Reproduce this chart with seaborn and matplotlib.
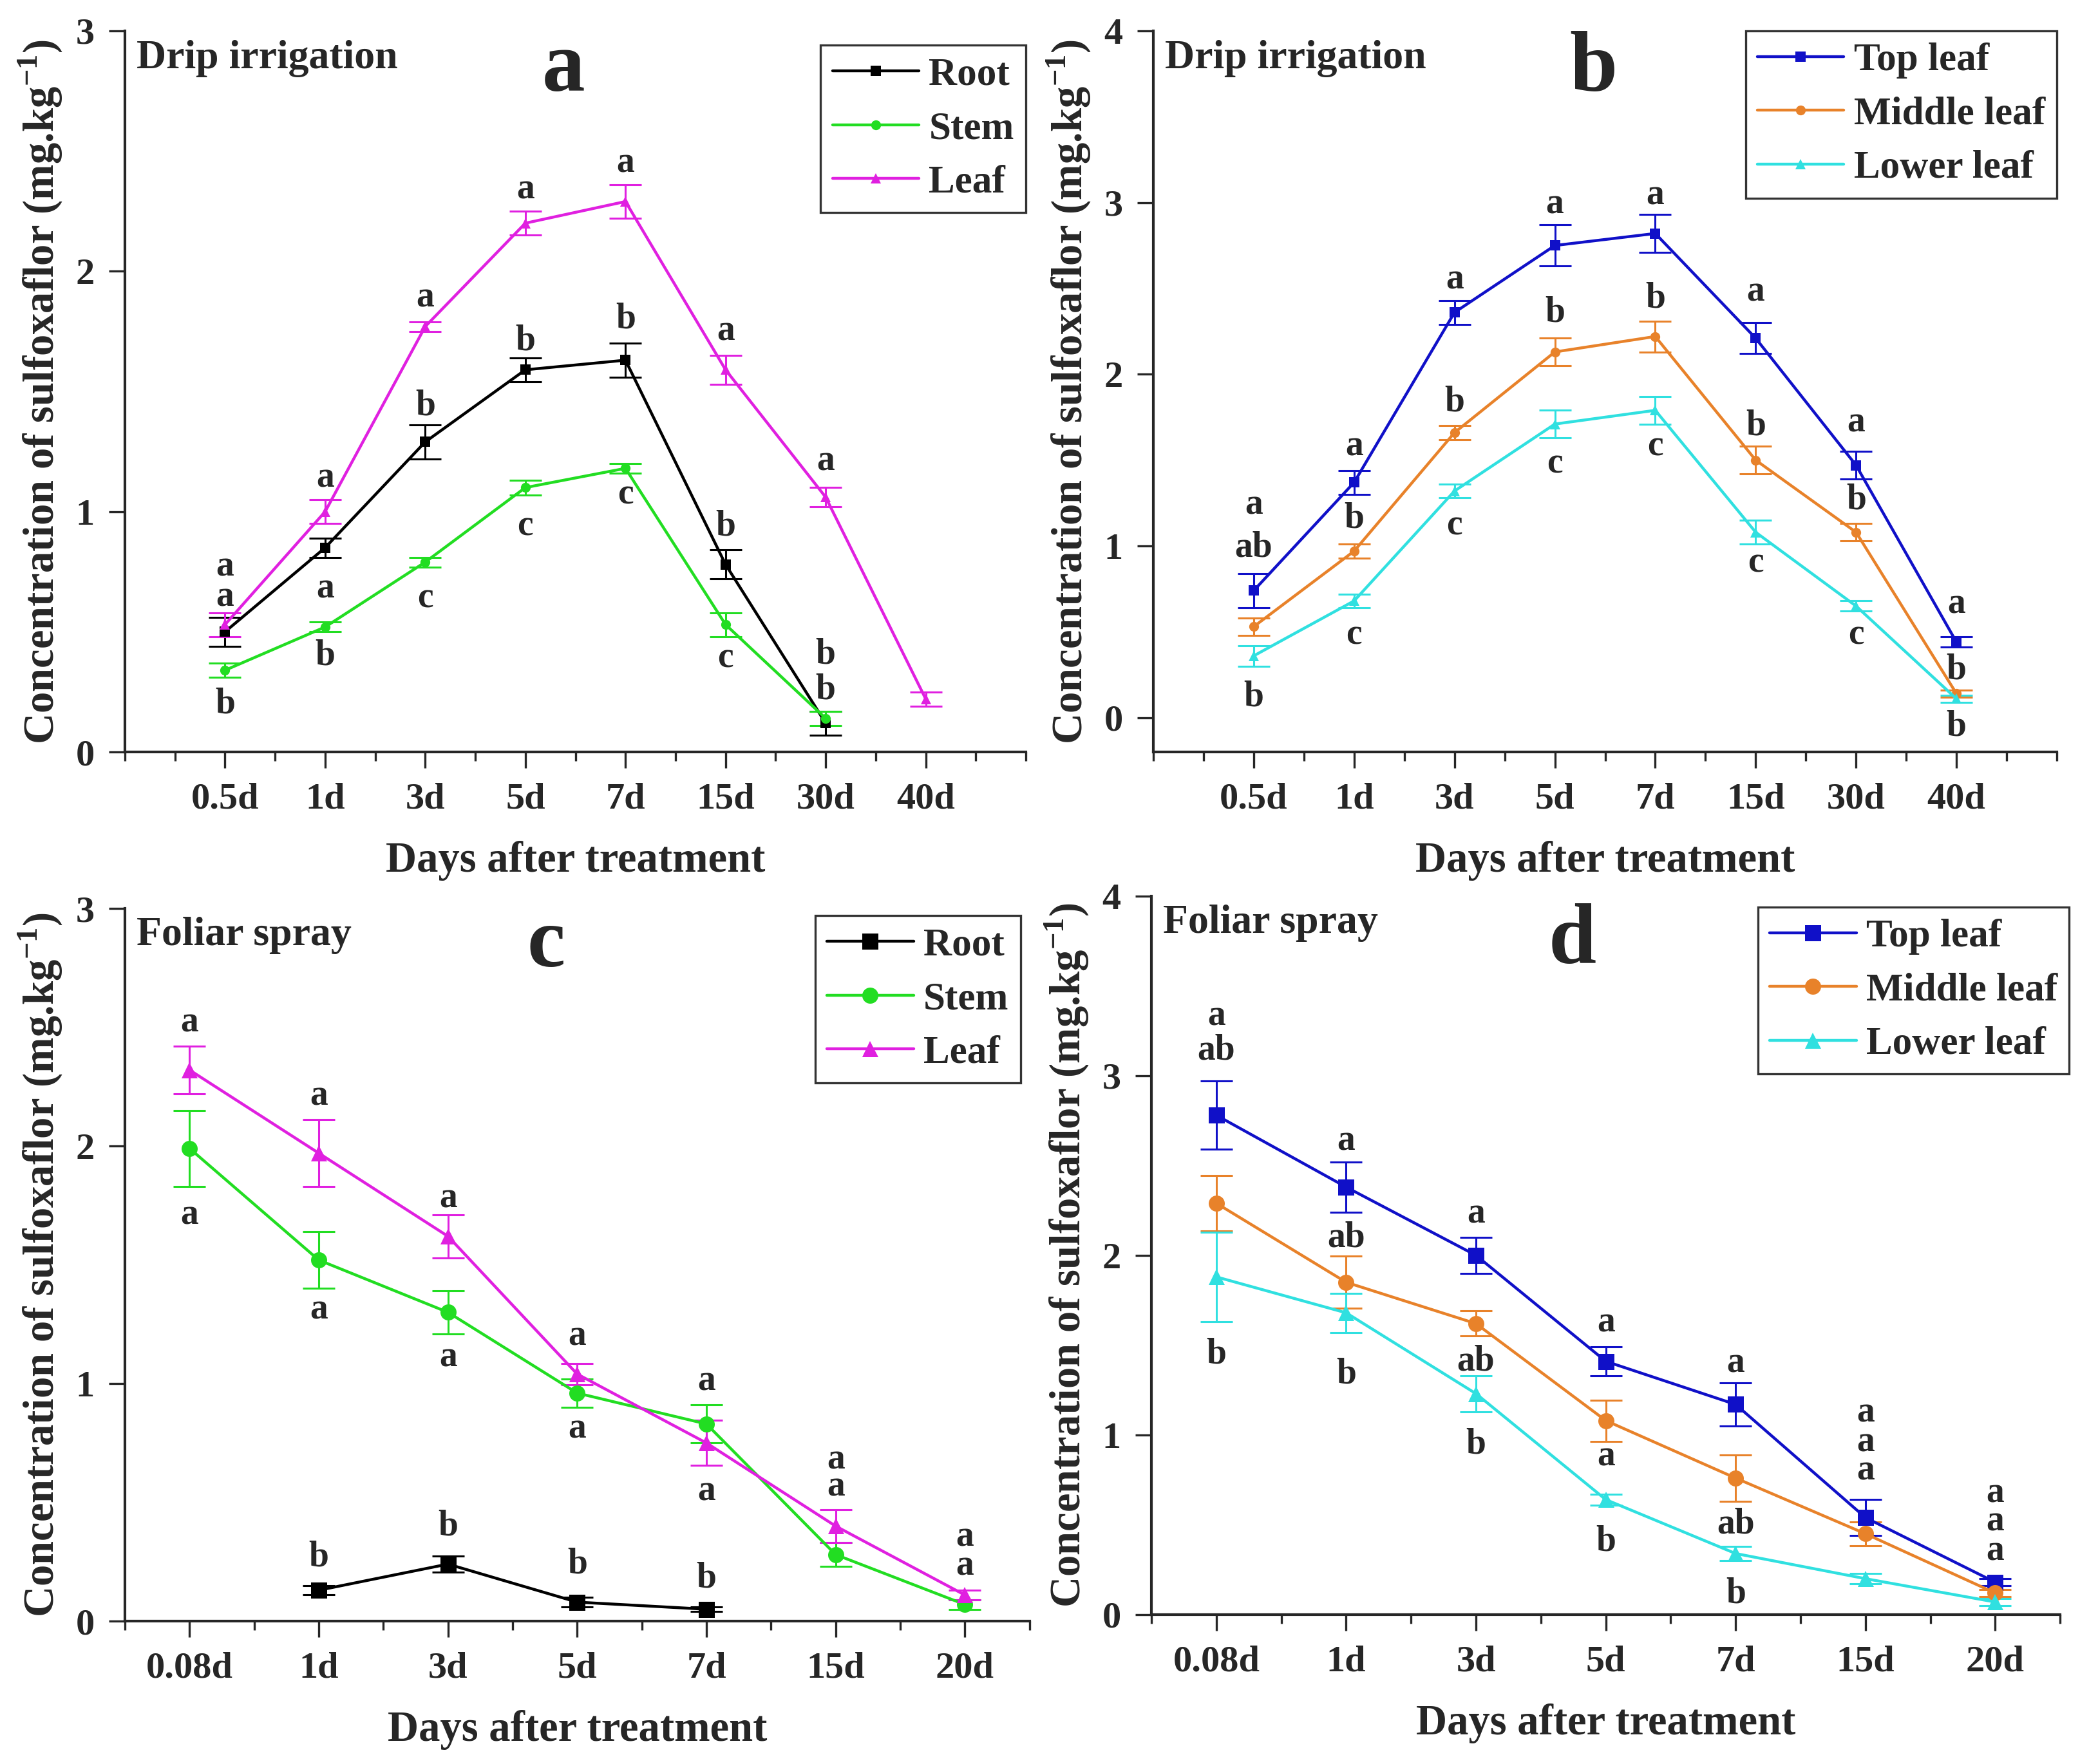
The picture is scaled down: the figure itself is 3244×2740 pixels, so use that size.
import numpy as np
import pandas as pd
import matplotlib
matplotlib.use("Agg")
import matplotlib.pyplot as plt
import seaborn as sns

# ---- data ----
drip_days = ['0.5d', '1d', '3d', '5d', '7d', '15d', '30d', '40d']
spray_days = ['0.08d', '1d', '3d', '5d', '7d', '15d', '20d']

# (a) drip irrigation, plant organs
drip_root = [0.50, 0.85, 1.29, 1.59, 1.63, 0.78, 0.12, np.nan]
drip_root_err = [0.06, 0.04, 0.07, 0.05, 0.07, 0.06, 0.05, np.nan]
drip_stem = [0.34, 0.52, 0.79, 1.10, 1.18, 0.53, 0.14, np.nan]
drip_stem_err = [0.03, 0.02, 0.02, 0.03, 0.02, 0.05, 0.03, np.nan]
drip_leaf = [0.53, 1.00, 1.77, 2.20, 2.29, 1.59, 1.06, 0.22]
drip_leaf_err = [0.05, 0.05, 0.02, 0.05, 0.07, 0.06, 0.04, 0.03]
drip_organ_sig = [['a', 'a', 'b'], ['a', 'a', 'b'], ['a', 'b', 'c'], ['a', 'b', 'c'],
                  ['a', 'b', 'c'], ['a', 'b', 'c'], ['a', 'b', 'b'], []]
drip_organ_sig_y = [[0.77, 0.645, 0.20], [1.14, 0.68, 0.40], [1.89, 1.44, 0.64],
                    [2.34, 1.71, 0.94], [2.45, 1.80, 1.07], [1.75, 0.94, 0.39],
                    [1.21, 0.405, 0.258], []]

# (b) drip irrigation, leaf positions
drip_top = [0.74, 1.37, 2.36, 2.75, 2.82, 2.21, 1.47, 0.44]
drip_top_err = [0.10, 0.07, 0.07, 0.12, 0.11, 0.09, 0.08, 0.03]
drip_middle = [0.53, 0.97, 1.66, 2.13, 2.22, 1.50, 1.08, 0.14]
drip_middle_err = [0.05, 0.04, 0.04, 0.08, 0.09, 0.08, 0.05, 0.02]
drip_lower = [0.36, 0.68, 1.32, 1.71, 1.79, 1.08, 0.65, 0.11]
drip_lower_err = [0.06, 0.04, 0.04, 0.08, 0.08, 0.07, 0.03, 0.02]
drip_leaf_sig = [['a', 'ab', 'b'], ['a', 'b', 'c'], ['a', 'b', 'c'], ['a', 'b', 'c'],
                 ['a', 'b', 'c'], ['a', 'b', 'c'], ['a', 'b', 'c'], ['a', 'b', 'b']]
drip_leaf_sig_y = [[1.24, 0.99, 0.12], [1.58, 1.16, 0.48], [2.55, 1.84, 1.12],
                   [2.99, 2.36, 1.48], [3.04, 2.44, 1.58], [2.48, 1.70, 0.90],
                   [1.72, 1.27, 0.48], [0.66, 0.28, -0.05]]

# (c) foliar spray, plant organs
spray_root = [np.nan, 0.13, 0.24, 0.08, 0.05, np.nan, np.nan]
spray_root_err = [np.nan, 0.02, 0.035, 0.02, 0.01, np.nan, np.nan]
spray_stem = [1.99, 1.52, 1.30, 0.96, 0.83, 0.28, 0.07]
spray_stem_err = [0.16, 0.12, 0.09, 0.06, 0.08, 0.05, 0.02]
spray_leaf = [2.32, 1.97, 1.62, 1.04, 0.75, 0.40, 0.11]
spray_leaf_err = [0.10, 0.14, 0.09, 0.045, 0.095, 0.07, 0.02]
spray_organ_sig = [['a', 'a'], ['a', 'a', 'b'], ['a', 'a', 'b'], ['a', 'a', 'b'],
                   ['a', 'a', 'b'], ['a', 'a'], ['a', 'a']]
spray_organ_sig_y = [[2.52, 1.71], [2.21, 1.31, 0.27], [1.78, 1.11, 0.40],
                     [1.20, 0.81, 0.24], [1.01, 0.545, 0.18], [0.68, 0.566],
                     [0.355, 0.232]]

# (d) foliar spray, leaf positions
spray_top = [2.78, 2.38, 2.00, 1.41, 1.17, 0.54, 0.18]
spray_top_err = [0.19, 0.14, 0.10, 0.08, 0.12, 0.10, 0.02]
spray_middle = [2.29, 1.85, 1.62, 1.08, 0.76, 0.45, 0.12]
spray_middle_err = [0.155, 0.145, 0.07, 0.115, 0.13, 0.065, 0.02]
spray_lower = [1.88, 1.68, 1.23, 0.64, 0.34, 0.20, 0.07]
spray_lower_err = [0.25, 0.11, 0.10, 0.03, 0.04, 0.03, 0.02]
spray_leaf_sig = [['a', 'ab', 'b'], ['a', 'ab', 'b'], ['a', 'ab', 'b'], ['a', 'a', 'b'],
                  ['a', 'ab', 'b'], ['a', 'a', 'a'], ['a', 'a', 'a']]
spray_leaf_sig_y = [[3.33, 3.14, 1.45], [2.635, 2.10, 1.34], [2.23, 1.41, 0.946],
                    [1.625, 0.878, 0.408], [1.40, 0.502, 0.116], [1.123, 0.957, 0.80],
                    [0.675, 0.518, 0.351]]

organ_names = ['Root', 'Stem', 'Leaf']
leaf_names = ['Top leaf', 'Middle leaf', 'Lower leaf']
organ_colors = {'Root': '#000000', 'Stem': '#22dd22', 'Leaf': '#e020e0'}
leaf_colors = {'Top leaf': '#1010c8', 'Middle leaf': '#e8822a', 'Lower leaf': '#30e0e0'}
organ_markers = {'Root': 's', 'Stem': 'o', 'Leaf': '^'}
leaf_markers = {'Top leaf': 's', 'Middle leaf': 'o', 'Lower leaf': '^'}

# ---- style ----
sns.set_style('ticks')
plt.rcParams['font.family'] = ['Liberation Serif', 'DejaVu Serif']
plt.rcParams['font.weight'] = 'bold'
plt.rcParams['axes.labelweight'] = 'bold'
plt.rcParams['mathtext.fontset'] = 'custom'
plt.rcParams['mathtext.rm'] = 'Liberation Serif:bold'
plt.rcParams['mathtext.bf'] = 'Liberation Serif:bold'

ylab = r'Concentration of sulfoxaflor (mg.kg$^{\mathbf{-1}}$)'


def draw_panel(ax, days, names, values, errors, colors, markers, sig, sig_y,
               xlim, ylim, yticks, msize, method, letter, letter_xy, legend_box):
    rows = []
    for name, vals in zip(names, values):
        for i, v in enumerate(vals):
            rows.append({'pos': i, 'conc': v, 'part': name})
    df = pd.DataFrame(rows).dropna()

    sns.lineplot(data=df, x='pos', y='conc', hue='part', style='part',
                 hue_order=names, style_order=names, palette=colors,
                 markers=markers, dashes=False, linewidth=1.6,
                 markersize=msize, markeredgewidth=0, ax=ax)
    for name, vals, errs in zip(names, values, errors):
        ax.errorbar(np.arange(len(vals)), vals, yerr=errs, fmt='none',
                    ecolor=colors[name], elinewidth=1.1, capsize=9, capthick=1.1,
                    zorder=1)

    for i, (labs, ys) in enumerate(zip(sig, sig_y)):
        for lab, y in zip(labs, ys):
            ax.text(i, y, lab, ha='center', va='center', fontsize=20,
                    fontweight='bold')

    ax.set_xlim(*xlim)
    ax.set_ylim(*ylim)
    ax.set_xticks(range(len(days)))
    ax.set_xticklabels(days)
    ax.set_xticks(np.arange(xlim[0], xlim[1] + 0.01, 0.5), minor=True)
    ax.set_yticks(yticks)
    ax.set_yticklabels([str(t) for t in yticks])
    ax.tick_params(axis='both', which='major', labelsize=21, length=9,
                   width=1.2, direction='out', pad=8)
    ax.tick_params(axis='x', which='minor', length=5, width=1.2, direction='out')
    ax.tick_params(axis='y', which='minor', left=False)
    for s in ['top', 'right']:
        ax.spines[s].set_visible(False)
    for s in ['left', 'bottom']:
        ax.spines[s].set_linewidth(1.5)

    ax.set_xlabel('Days after treatment', fontsize=24, labelpad=14)
    ax.set_ylabel(ylab, fontsize=24, labelpad=6)

    ax.text(0.013, 0.962, method, transform=ax.transAxes, fontsize=23,
            ha='left', va='center')
    ax.text(letter_xy[0], letter_xy[1], letter, transform=ax.transAxes,
            fontsize=48, ha='center', va='center')

    handles, labels = ax.get_legend_handles_labels()
    ax.legend(handles, labels, loc='upper right', bbox_to_anchor=legend_box,
              fontsize=22, frameon=True, fancybox=False, edgecolor='#333333',
              framealpha=1, handlelength=2.2, handletextpad=0.25,
              labelspacing=0.45, borderpad=0.3, borderaxespad=0)
    ax.get_legend().get_frame().set_linewidth(1.2)


fig = plt.figure(figsize=(16.22, 13.70), dpi=200)
ax_a = fig.add_axes([0.0598, 0.5737, 0.4313, 0.4088])
ax_b = fig.add_axes([0.5521, 0.5737, 0.4325, 0.4088])
ax_c = fig.add_axes([0.0598, 0.0810, 0.4330, 0.4040])
ax_d = fig.add_axes([0.5512, 0.0847, 0.4350, 0.4073])

draw_panel(ax_a, drip_days, organ_names,
           [drip_root, drip_stem, drip_leaf],
           [drip_root_err, drip_stem_err, drip_leaf_err],
           organ_colors, organ_markers, drip_organ_sig, drip_organ_sig_y,
           (-1, 8), (0, 3), [0, 1, 2, 3], 5.5, 'Drip irrigation', 'a',
           (0.487, 0.946), (1.0, 0.98))
draw_panel(ax_b, drip_days, leaf_names,
           [drip_top, drip_middle, drip_lower],
           [drip_top_err, drip_middle_err, drip_lower_err],
           leaf_colors, leaf_markers, drip_leaf_sig, drip_leaf_sig_y,
           (-1, 8), (-0.2, 4), [0, 1, 2, 3, 4], 5.5, 'Drip irrigation', 'b',
           (0.487, 0.946), (1.0, 1.0))
draw_panel(ax_c, spray_days, organ_names,
           [spray_root, spray_stem, spray_leaf],
           [spray_root_err, spray_stem_err, spray_leaf_err],
           organ_colors, organ_markers, spray_organ_sig, spray_organ_sig_y,
           (-0.5, 6.5), (0, 3), [0, 1, 2, 3], 9, 'Foliar spray', 'c',
           (0.466, 0.948), (0.99, 0.99))
draw_panel(ax_d, spray_days, leaf_names,
           [spray_top, spray_middle, spray_lower],
           [spray_top_err, spray_middle_err, spray_lower_err],
           leaf_colors, leaf_markers, spray_leaf_sig, spray_leaf_sig_y,
           (-0.5, 6.5), (0, 4), [0, 1, 2, 3, 4], 9, 'Foliar spray', 'd',
           (0.463, 0.936), (1.01, 0.985))

fig.savefig('out.png', dpi=200)
